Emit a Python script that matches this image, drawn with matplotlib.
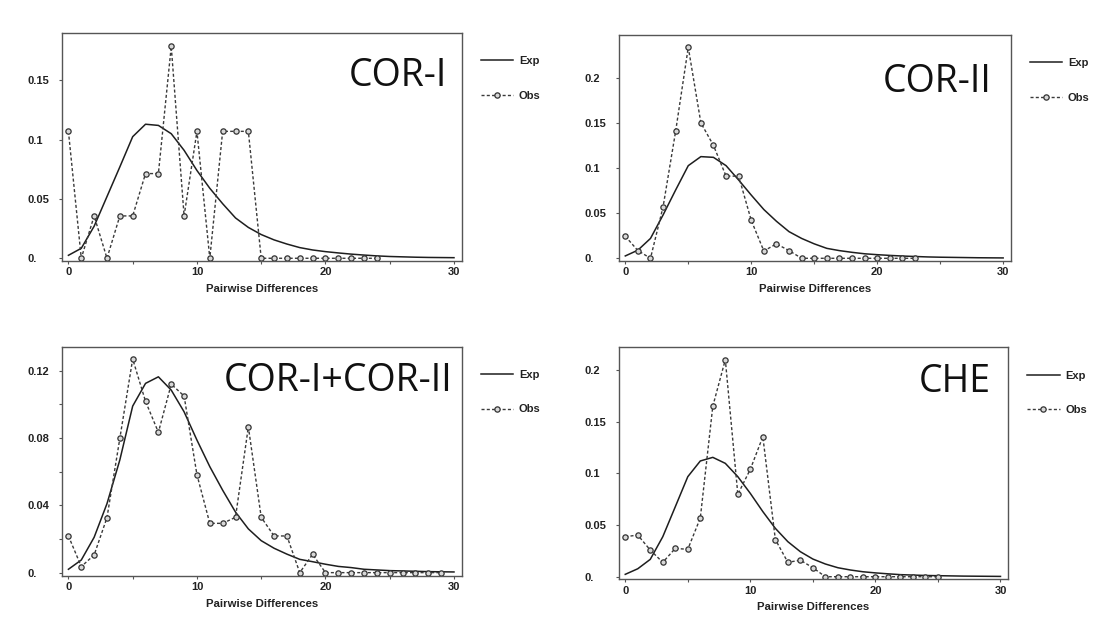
import matplotlib
matplotlib.use("Agg")
import matplotlib.pyplot as plt
from matplotlib.ticker import MultipleLocator, FuncFormatter
from matplotlib.font_manager import FontProperties

# ---------------- data ----------------
titles = ["COR-I", "COR-II", "COR-I+COR-II", "CHE"]
x_label = "Pairwise Differences"
legend_labels = ["Exp", "Obs"]

exp_x = list(range(31))
exp_cor1 = [0.0025, 0.0084, 0.027, 0.052, 0.077, 0.1025, 0.113, 0.112, 0.105, 0.091,
            0.074, 0.059, 0.046, 0.034, 0.026, 0.020, 0.0155, 0.012, 0.009, 0.007,
            0.0056, 0.0045, 0.0035, 0.0027, 0.002, 0.0015, 0.0012, 0.0009, 0.0007, 0.0006, 0.0005]
exp_cor2 = [0.0026, 0.009, 0.022, 0.048, 0.0757, 0.1026, 0.1126, 0.1118, 0.1026, 0.0867,
            0.070, 0.054, 0.041, 0.0295, 0.022, 0.016, 0.011, 0.0085, 0.0066, 0.005,
            0.004, 0.0032, 0.0025, 0.002, 0.0015, 0.0012, 0.001, 0.0008, 0.0006, 0.0005, 0.0004]
exp_cor12 = [0.002, 0.0075, 0.021, 0.041, 0.067, 0.099, 0.1125, 0.1164, 0.1085, 0.0956,
             0.0788, 0.063, 0.049, 0.036, 0.026, 0.019, 0.0145, 0.011, 0.0079, 0.0065,
             0.005, 0.0037, 0.003, 0.002, 0.0016, 0.0012, 0.001, 0.0008, 0.0006, 0.0005, 0.0004]
exp_che = [0.0023, 0.0077, 0.0168, 0.0387, 0.0677, 0.0968, 0.112, 0.1155, 0.1097, 0.0968,
           0.0806, 0.063, 0.0468, 0.0339, 0.0242, 0.0171, 0.0123, 0.0087, 0.0065, 0.0048,
           0.0037, 0.0028, 0.002, 0.0016, 0.0012, 0.001, 0.0008, 0.0006, 0.0005, 0.0004, 0.0003]

obs_cor1 = [0.107, 0, 0.0357, 0, 0.0357, 0.0357, 0.0714, 0.0714, 0.1786, 0.0357,
            0.107, 0, 0.107, 0.107, 0.107, 0, 0, 0, 0, 0, 0, 0, 0, 0, 0]
obs_cor2 = [0.0244, 0.0085, 0, 0.057, 0.141, 0.2337, 0.150, 0.125, 0.091, 0.091,
            0.042, 0.0081, 0.016, 0.0085, 0, 0, 0, 0, 0, 0, 0, 0, 0, 0]
obs_cor12 = [0.0218, 0.0036, 0.0105, 0.0327, 0.0798, 0.127, 0.1018, 0.0834, 0.112, 0.105,
             0.0582, 0.0293, 0.0293, 0.0329, 0.0867, 0.0329, 0.0218, 0.0218, 0, 0.0109,
             0, 0, 0, 0, 0, 0, 0, 0, 0, 0]
obs_che = [0.0387, 0.0403, 0.0258, 0.0139, 0.0274, 0.0265, 0.0568, 0.165, 0.210, 0.0797,
           0.104, 0.1355, 0.036, 0.0139, 0.016, 0.0087, 0, 0, 0, 0, 0, 0, 0, 0, 0, 0]

exp_series = [exp_cor1, exp_cor2, exp_cor12, exp_che]
obs_series = [obs_cor1, obs_cor2, obs_cor12, obs_che]

y_major = [0.05, 0.05, 0.04, 0.05]
y_minor = [None, None, 0.02, None]
y_limits = [(-0.0023, 0.1899), (-0.003, 0.2473), (-0.002, 0.1343), (-0.0025, 0.222)]

# ---------------- layout ----------------
W, H = 1097, 626
fig = plt.figure(figsize=(W / 100, H / 100), dpi=100)
fig.patch.set_facecolor("white")

boxes_px = [  # left, top, right, bottom in pixels
    (62, 33, 461.7, 261),
    (619, 35, 1010.7, 261),
    (62, 346.7, 461.7, 576),
    (619, 347.3, 1008, 579.3),
]
title_pos = [(0.963, 0.7675), (0.952, 0.748), (0.978, 0.807), (0.956, 0.807)]

tick_font = dict(family="Liberation Sans", weight="bold", size=8)
frame_col = "#555555"


def yfmt(v, pos):
    if abs(v) < 1e-9:
        return "0."
    return ("%.3f" % v).rstrip("0")


for i in range(4):
    l, t, r, b = boxes_px[i]
    wpx, hpx = r - l, b - t
    ax = fig.add_axes([l / W, 1 - b / H, wpx / W, hpx / H])
    ax.set_facecolor("white")
    ox = list(range(len(obs_series[i])))
    ax.plot(exp_x, exp_series[i], color="#1e1e1e", lw=1.1, label=legend_labels[0])
    ax.plot(ox, obs_series[i], color="#3a3a3a", lw=1.0, ls=(0, (2.2, 1.6)),
            marker="o", ms=3.8, mfc="#d8d8d8", mec="#333333", mew=0.9,
            label=legend_labels[1])
    ax.set_xlim(-0.5, 30.6)
    ax.set_ylim(*y_limits[i])
    ax.xaxis.set_major_locator(MultipleLocator(10))
    ax.xaxis.set_minor_locator(MultipleLocator(5))
    ax.yaxis.set_major_locator(MultipleLocator(y_major[i]))
    if y_minor[i]:
        ax.yaxis.set_minor_locator(MultipleLocator(y_minor[i]))
    ax.yaxis.set_major_formatter(FuncFormatter(yfmt))
    for sp in ax.spines.values():
        sp.set_color(frame_col)
        sp.set_linewidth(1.0)
    ax.tick_params(axis="x", which="both", direction="out", length=2.5, width=0.8,
                   color=frame_col, pad=2)
    ax.tick_params(axis="y", which="both", direction="out", length=2.5, width=0.8,
                   color=frame_col, pad=22.5)
    for lab in ax.get_xticklabels():
        lab.set_fontproperties(FontProperties(**tick_font))
        lab.set_color("#222222")
    for lab in ax.get_yticklabels():
        lab.set_fontproperties(FontProperties(**tick_font))
        lab.set_horizontalalignment("left")
        lab.set_color("#222222")
    ax.set_xlabel(x_label, fontfamily="Liberation Sans", fontweight="bold",
                  fontsize=8.2, labelpad=5, color="#222222")
    tx, ty = title_pos[i]
    ax.text(tx, ty, titles[i], transform=ax.transAxes, ha="right", va="baseline",
            fontsize=27, family="Open Sans", color="#111111")
    leg = ax.legend(loc="upper left",
                    bbox_to_anchor=(1.0 + 6 / wpx, 1.0 - 10 / hpx),
                    frameon=False,
                    handlelength=2.9, handletextpad=0.5, labelspacing=2.2,
                    borderaxespad=0.0, borderpad=1.2,
                    prop=dict(family="Liberation Sans", weight="bold", size=8))
    for txt in leg.get_texts():
        txt.set_color("#222222")

fig.savefig("out.png", dpi=100, facecolor="white")
